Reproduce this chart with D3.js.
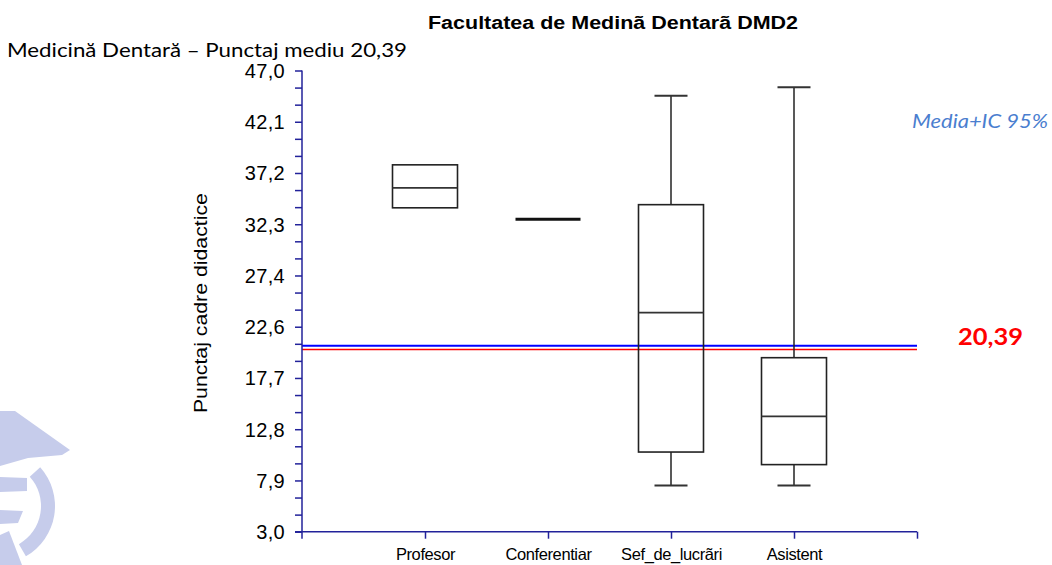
<!DOCTYPE html>
<html>
<head>
<meta charset="utf-8">
<script src="https://cdn.jsdelivr.net/npm/d3@7"></script>
<style>
  body { margin: 0; background: #fff; }
  svg { display: block; }
</style>
</head>
<body>
<svg id="chart"></svg>
<script>
// data
var CATEGORIES = ["Profesor", "Conferentiar", "Sef_de_lucrãri", "Asistent"];
var MINS    = [33.9, 32.8, 7.4, 7.4];
var Q1S     = [33.9, 32.8, 10.6, 9.4];
var MEDIANS = [35.8, 32.8, 23.9, 14.0];
var Q3S     = [38.0, 32.8, 34.2, 19.6];
var MAXS    = [38.0, 32.8, 44.6, 45.4];
var MEAN = 20.39;
var MEAN_CI_UPPER = 20.75;
var Y_LABELS = ["3,0", "7,9", "12,8", "17,7", "22,6", "27,4", "32,3", "37,2", "42,1", "47,0"];
var Y_MIN = 3.0;
var Y_MAX = 47.0;

(function () {
    var WIDTH = 1052;
    var HEIGHT = 565;
    var AXIS_LEFT = 302;
    var AXIS_RIGHT = 917;
    var AXIS_TOP = 70.5;
    var AXIS_BOTTOM = 531.7;
    var BOX_W = 65;
    var CAP_W = 33;
    var AXIS_COLOR = "#22229a";
    var ARIAL = "Liberation Sans, Arial, sans-serif";
    var CALIBRI = "Lato, 'Open Sans', sans-serif";

    var svg = d3.select("#chart").attr("width", WIDTH).attr("height", HEIGHT);

    var xScale = d3.scaleLinear().domain([0, CATEGORIES.length + 1]).range([AXIS_LEFT, AXIS_RIGHT]);
    var yScale = d3.scaleLinear().domain([Y_MIN, Y_MAX]).range([AXIS_BOTTOM, AXIS_TOP]);

    function drawLogo() {
        var g = svg.append("g").attr("fill", "#c6cceb");
        // cap
        g.append("path").attr("d", "M0,411 L15,411 L70,450 L62,455 L28,458 L0,466 Z");
        // arc
        var arc = d3.arc().innerRadius(44).outerRadius(58).startAngle(0.84).endAngle(2.62);
        g.append("path").attr("transform", "translate(-3,506)").attr("d", arc());
        // strokes of the E
        g.append("path").attr("d", "M0,477 L27,478 L27,491 L0,492 Z");
        g.append("path").attr("d", "M0,510 L23,511 L18,523 L0,524 Z");
        g.append("path").attr("d", "M0,535 L9,531 L22,565 L0,565 Z");
    }

    function drawAxes() {
        var minorTicks = d3.range(28).map(function (k) { return Y_MIN + k * (Y_MAX - Y_MIN) / 27; });
        var yAxis = d3.axisLeft(yScale).tickValues(minorTicks).tickSize(7).tickPadding(10)
            .tickFormat(function (d, i) { return i % 3 === 0 ? Y_LABELS[i / 3] : ""; });
        var gy = svg.append("g").attr("transform", "translate(" + AXIS_LEFT + ",0)").call(yAxis);
        gy.select(".domain").attr("stroke", AXIS_COLOR).attr("stroke-width", 1.5)
            .attr("d", "M0," + AXIS_TOP + "V" + (AXIS_BOTTOM + 7));
        gy.selectAll(".tick line").attr("stroke", AXIS_COLOR).attr("stroke-width", 1.5);
        gy.selectAll(".tick text").attr("fill", "#000").attr("font-family", ARIAL)
            .attr("font-size", "20px").attr("letter-spacing", "0.3px").attr("dy", "0.35em");

        var xTicks = d3.range(1, CATEGORIES.length + 2);
        var xAxis = d3.axisBottom(xScale).tickValues(xTicks).tickSize(7).tickPadding(10)
            .tickFormat(function (d) { return CATEGORIES[d - 1] || ""; });
        var gx = svg.append("g").attr("transform", "translate(0," + AXIS_BOTTOM + ")").call(xAxis);
        gx.select(".domain").attr("stroke", AXIS_COLOR).attr("stroke-width", 1.5)
            .attr("d", "M" + (AXIS_LEFT - 7) + ",0H" + AXIS_RIGHT);
        gx.selectAll(".tick line").attr("stroke", AXIS_COLOR).attr("stroke-width", 1.5);
        gx.selectAll(".tick text").attr("fill", "#000").attr("font-family", ARIAL)
            .attr("font-size", "16.5px").attr("letter-spacing", "-0.4px");

        svg.append("text")
            .attr("transform", "translate(207," + ((AXIS_TOP + AXIS_BOTTOM) / 2 + 2) + ") rotate(-90)")
            .attr("text-anchor", "middle")
            .attr("font-family", ARIAL).attr("font-size", "18px")
            .attr("textLength", 220).attr("lengthAdjust", "spacingAndGlyphs")
            .text("Punctaj cadre didactice");
    }

    function drawMeanLines() {
        svg.append("line").attr("x1", AXIS_LEFT).attr("x2", AXIS_RIGHT)
            .attr("y1", yScale(MEAN_CI_UPPER)).attr("y2", yScale(MEAN_CI_UPPER))
            .attr("stroke", "#0000ff").attr("stroke-width", 2);
        svg.append("line").attr("x1", AXIS_LEFT).attr("x2", AXIS_RIGHT)
            .attr("y1", yScale(MEAN)).attr("y2", yScale(MEAN))
            .attr("stroke", "#ff0000").attr("stroke-width", 1.5);
    }

    function drawBoxes() {
        var data = CATEGORIES.map(function (c, i) {
            return {i: i + 1, min: MINS[i], q1: Q1S[i], med: MEDIANS[i], q3: Q3S[i], max: MAXS[i]};
        });
        var g = svg.selectAll("g.box").data(data).enter().append("g").attr("class", "box");

        g.each(function (d) {
            var el = d3.select(this);
            var cx = xScale(d.i);
            if (d.q1 === d.q3) {
                el.append("line").attr("x1", cx - BOX_W / 2).attr("x2", cx + BOX_W / 2)
                    .attr("y1", yScale(d.med)).attr("y2", yScale(d.med))
                    .attr("stroke", "#111").attr("stroke-width", 3);
                return;
            }
            if (d.max > d.q3) {
                el.append("line").attr("x1", cx).attr("x2", cx).attr("y1", yScale(d.q3)).attr("y2", yScale(d.max))
                    .attr("stroke", "#222").attr("stroke-width", 1.5);
                el.append("line").attr("x1", cx - CAP_W / 2).attr("x2", cx + CAP_W / 2)
                    .attr("y1", yScale(d.max)).attr("y2", yScale(d.max))
                    .attr("stroke", "#333").attr("stroke-width", 2);
            }
            if (d.min < d.q1) {
                el.append("line").attr("x1", cx).attr("x2", cx).attr("y1", yScale(d.q1)).attr("y2", yScale(d.min))
                    .attr("stroke", "#222").attr("stroke-width", 1.5);
                el.append("line").attr("x1", cx - CAP_W / 2).attr("x2", cx + CAP_W / 2)
                    .attr("y1", yScale(d.min)).attr("y2", yScale(d.min))
                    .attr("stroke", "#333").attr("stroke-width", 2);
            }
            el.append("rect").attr("x", cx - BOX_W / 2).attr("width", BOX_W)
                .attr("y", yScale(d.q3)).attr("height", yScale(d.q1) - yScale(d.q3))
                .attr("fill", "none").attr("stroke", "#222").attr("stroke-width", 1.6);
            el.append("line").attr("x1", cx - BOX_W / 2).attr("x2", cx + BOX_W / 2)
                .attr("y1", yScale(d.med)).attr("y2", yScale(d.med))
                .attr("stroke", "#333").attr("stroke-width", 1.6);
        });
    }

    function drawTexts() {
        svg.append("text").attr("x", 428).attr("y", 29)
            .attr("font-family", ARIAL).attr("font-weight", "bold").attr("font-size", "18px")
            .attr("textLength", 370).attr("lengthAdjust", "spacingAndGlyphs")
            .text("Facultatea de Medinã Dentarã DMD2");
        svg.append("text").attr("x", 7).attr("y", 57)
            .attr("font-family", CALIBRI).attr("font-size", "19.5px")
            .attr("textLength", 400).attr("lengthAdjust", "spacingAndGlyphs")
            .text("Medicină Dentară – Punctaj mediu 20,39");
        svg.append("text").attr("x", 912).attr("y", 128)
            .attr("font-family", CALIBRI).attr("font-style", "italic")
            .attr("font-size", "20px").attr("fill", "#4a7ecf")
            .attr("textLength", 136).attr("lengthAdjust", "spacingAndGlyphs")
            .text("Media+IC 95%");
        svg.append("text").attr("x", 958).attr("y", 345)
            .attr("font-family", CALIBRI).attr("font-weight", "bold")
            .attr("font-size", "23px").attr("fill", "#ff0000")
            .attr("textLength", 65).attr("lengthAdjust", "spacingAndGlyphs")
            .text("20,39");
    }

    drawLogo();
    drawMeanLines();
    drawAxes();
    drawBoxes();
    drawTexts();
}());
</script>
</body>
</html>
